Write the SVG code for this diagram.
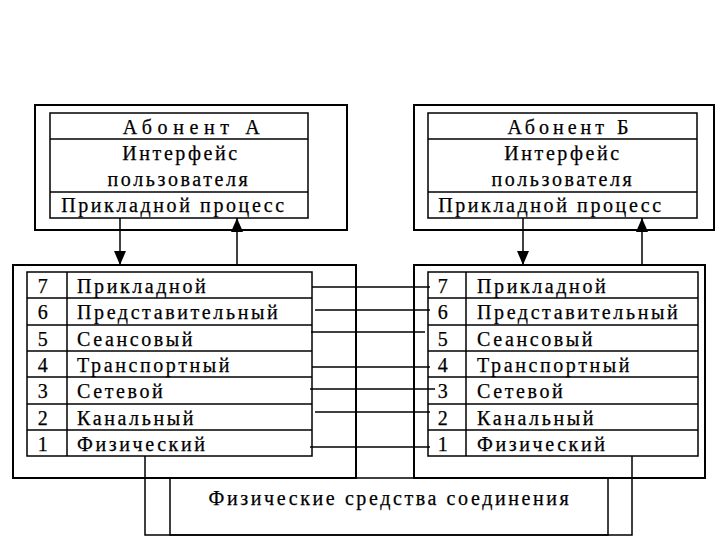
<svg xmlns="http://www.w3.org/2000/svg" width="720" height="540" viewBox="0 0 720 540">
<style>
.outer{fill:none;stroke:#000;stroke-width:2}
.inner{fill:none;stroke:#000;stroke-width:1.5}
.ln{stroke:#000;stroke-width:1.5;fill:none}
.t{font-family:"Liberation Serif","DejaVu Serif",serif;font-size:20px;letter-spacing:2.6px;fill:#000;stroke:#000;stroke-width:0.25}
.c{text-anchor:middle}
</style>
<defs>
<marker id="ah" viewBox="0 0 14 12" refX="14" refY="6" markerWidth="14" markerHeight="12" markerUnits="userSpaceOnUse" orient="auto">
<path d="M0,0 L14,6 L0,12 z" fill="#000"/>
</marker>
</defs>
<rect width="720" height="540" fill="#fff"/>

<g id="abonent-a">
<rect class="outer" x="35" y="105" width="312" height="125"/>
<rect class="inner" x="50" y="113" width="258" height="105"/>
<line class="ln" x1="50" y1="139" x2="308" y2="139"/>
<line class="ln" x1="50" y1="192" x2="308" y2="192"/>
<text class="t c" x="194" y="134" style="letter-spacing:5.6px">Абонент А</text>
<text class="t c" x="181" y="160">Интерфейс</text>
<text class="t c" x="179" y="186">пользователя</text>
<text class="t c" x="174" y="212">Прикладной процесс</text>
</g>

<g id="abonent-b">
<rect class="outer" x="414" y="105" width="300" height="125"/>
<rect class="inner" x="428" y="113" width="269" height="105"/>
<line class="ln" x1="428" y1="139" x2="697" y2="139"/>
<line class="ln" x1="428" y1="192" x2="697" y2="192"/>
<text class="t c" x="570" y="134" style="letter-spacing:4px">Абонент Б</text>
<text class="t c" x="563" y="160">Интерфейс</text>
<text class="t c" x="563" y="186">пользователя</text>
<text class="t c" x="551" y="212">Прикладной процесс</text>
</g>

<g id="stack-a">
<rect class="outer" x="13" y="265" width="343" height="213"/>
<rect class="inner" x="27" y="272" width="285" height="184"/>
<line class="ln" x1="67" y1="272" x2="67" y2="456"/>
<line class="ln" x1="27" y1="298" x2="312" y2="298"/>
<line class="ln" x1="27" y1="325" x2="312" y2="325"/>
<line class="ln" x1="27" y1="351" x2="312" y2="351"/>
<line class="ln" x1="27" y1="377" x2="312" y2="377"/>
<line class="ln" x1="27" y1="404" x2="312" y2="404"/>
<line class="ln" x1="27" y1="430" x2="312" y2="430"/>
<text class="t c" x="44" y="293">7</text>
<text class="t c" x="44" y="319">6</text>
<text class="t c" x="44" y="346">5</text>
<text class="t c" x="44" y="372">4</text>
<text class="t c" x="44" y="398">3</text>
<text class="t c" x="44" y="425">2</text>
<text class="t c" x="44" y="451">1</text>
<text class="t" x="77" y="293">Прикладной</text>
<text class="t" x="77" y="319">Представительный</text>
<text class="t" x="77" y="346">Сеансовый</text>
<text class="t" x="77" y="372">Транспортный</text>
<text class="t" x="77" y="398">Сетевой</text>
<text class="t" x="77" y="425">Канальный</text>
<text class="t" x="77" y="451">Физический</text>
</g>

<g id="stack-b">
<rect class="outer" x="414" y="265" width="291" height="213"/>
<rect class="inner" x="428" y="272" width="270" height="184"/>
<line class="ln" x1="466" y1="272" x2="466" y2="456"/>
<line class="ln" x1="428" y1="298" x2="698" y2="298"/>
<line class="ln" x1="428" y1="325" x2="698" y2="325"/>
<line class="ln" x1="428" y1="351" x2="698" y2="351"/>
<line class="ln" x1="428" y1="377" x2="698" y2="377"/>
<line class="ln" x1="428" y1="404" x2="698" y2="404"/>
<line class="ln" x1="428" y1="430" x2="698" y2="430"/>
<text class="t c" x="444" y="293">7</text>
<text class="t c" x="444" y="319">6</text>
<text class="t c" x="444" y="346">5</text>
<text class="t c" x="444" y="372">4</text>
<text class="t c" x="444" y="398">3</text>
<text class="t c" x="444" y="425">2</text>
<text class="t c" x="444" y="451">1</text>
<text class="t" x="477" y="293">Прикладной</text>
<text class="t" x="477" y="319">Представительный</text>
<text class="t" x="477" y="346">Сеансовый</text>
<text class="t" x="477" y="372">Транспортный</text>
<text class="t" x="477" y="398">Сетевой</text>
<text class="t" x="477" y="425">Канальный</text>
<text class="t" x="477" y="451">Физический</text>
</g>

<g id="physical-media">
<rect class="inner" x="170" y="478" width="438" height="57"/>
<text class="t c" x="390" y="505">Физические средства соединения</text>
</g>

<g id="connectors">
<line class="ln" x1="120" y1="218" x2="120" y2="265" marker-end="url(#ah)"/>
<line class="ln" x1="237" y1="265" x2="237" y2="218" marker-end="url(#ah)"/>
<line class="ln" x1="523" y1="218" x2="523" y2="265" marker-end="url(#ah)"/>
<line class="ln" x1="642" y1="265" x2="642" y2="218" marker-end="url(#ah)"/>
<line class="ln" x1="312" y1="287" x2="430" y2="287"/>
<line class="ln" x1="315" y1="310" x2="430" y2="310"/>
<line class="ln" x1="311" y1="332" x2="425" y2="332"/>
<line class="ln" x1="312" y1="367" x2="430" y2="367"/>
<line class="ln" x1="310" y1="389" x2="435" y2="389"/>
<line class="ln" x1="315" y1="412" x2="430" y2="412"/>
<line class="ln" x1="310" y1="447" x2="430" y2="447"/>
<polyline class="ln" points="145,456 145,535 632,535 632,456"/>
</g>
</svg>
